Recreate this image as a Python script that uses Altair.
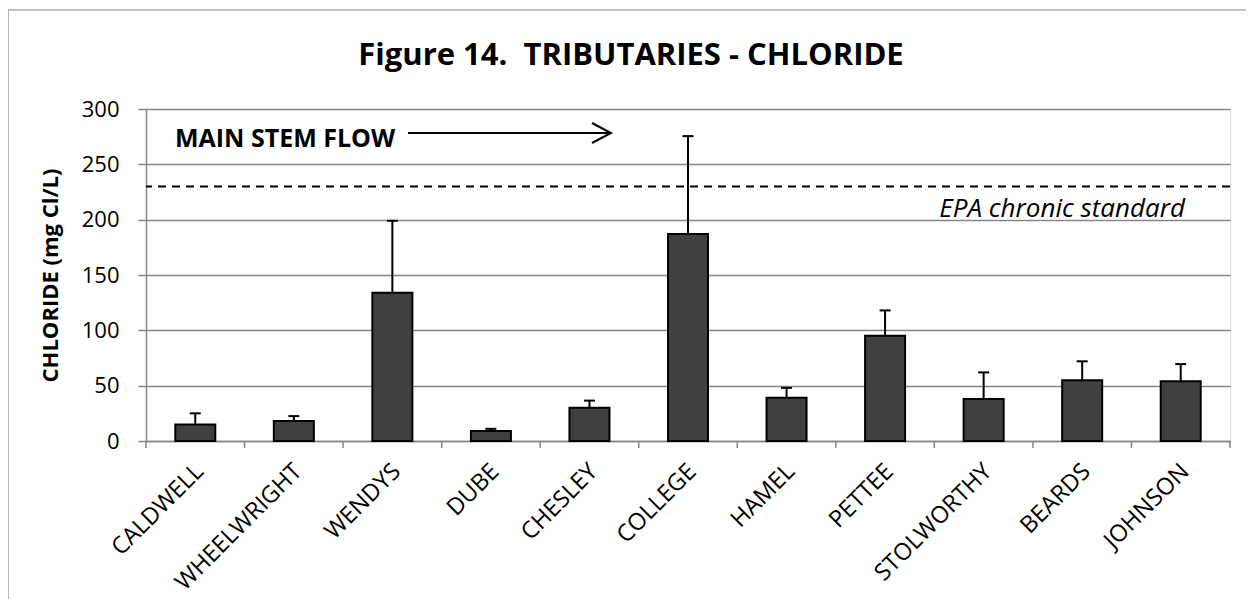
import altair as alt
import pandas as pd

# ---- data ----
sites = ["CALDWELL", "WHEELWRIGHT", "WENDYS", "DUBE", "CHESLEY", "COLLEGE",
         "HAMEL", "PETTEE", "STOLWORTHY", "BEARDS", "JOHNSON"]
chloride_mean = [15, 18, 134, 9, 30, 187, 39, 95, 38, 55, 54]
chloride_err = [10, 4.5, 65, 2, 6.5, 88.5, 9, 23, 24, 17, 15.5]
y_ticks = [0, 50, 100, 150, 200, 250, 300]
epa_standard = 230

title_text = "Figure 14.\u00a0\u00a0TRIBUTARIES - CHLORIDE"
y_title = "CHLORIDE (mg Cl/L)"
flow_label = "MAIN STEM FLOW"
epa_label = "EPA chronic standard"

W, H = 1084, 332
FONT = "Open Sans"
GRAY = "#868686"

df = pd.DataFrame({"site": sites, "mean": chloride_mean, "err": chloride_err})
one = pd.DataFrame({"a": [0]})

x_axis = alt.Axis(title=None, labelAngle=-45, labelAlign="right", labelBaseline="top",
                  labelFont=FONT, labelFontSize=23.5, labelColor="black",
                  labelPadding=18, labelOffset=-4, ticks=False, grid=False,
                  domainColor=GRAY, domainWidth=1.5, labelLimit=0)
x_scale = alt.Scale(paddingInner=0, paddingOuter=0)
x_enc = alt.X("site:N", sort=sites, scale=x_scale, axis=x_axis)

y_axis = alt.Axis(values=y_ticks, title=y_title, titleFont=FONT, titleFontSize=22,
                  titleFontWeight="bold", titleColor="black", titleAngle=-90,
                  titleX=-96, titleY=H / 2, titleAlign="center", titleBaseline="middle",
                  labelFont=FONT, labelFontSize=22, labelColor="black", labelPadding=19,
                  tickSize=8, tickColor=GRAY, tickWidth=1.5, domainColor=GRAY, domainWidth=1.5,
                  grid=True, gridColor=GRAY, gridWidth=1.5)
y_scale = alt.Scale(domain=[0, 300], nice=False)

base = alt.Chart(df).transform_calculate(upper="datum.mean + datum.err")

bars = base.mark_bar(size=40, color="#404040", stroke="black", strokeWidth=2).encode(
    x=x_enc, y=alt.Y("mean:Q", scale=y_scale, axis=y_axis))

err_line = base.mark_rule(color="black", strokeWidth=2).encode(
    x=x_enc, y=alt.Y("mean:Q", scale=y_scale, axis=y_axis), y2="upper:Q")

err_cap = base.mark_tick(color="black", size=11, thickness=2, opacity=1).encode(
    x=x_enc, y=alt.Y("upper:Q", scale=y_scale, axis=y_axis))

x_ticks = base.mark_rule(color=GRAY, strokeWidth=1.5).encode(
    x=alt.X("site:N", sort=sites, scale=x_scale, axis=x_axis, bandPosition=0),
    y=alt.value(H), y2=alt.value(H + 7))

end_tick = alt.Chart(one).mark_rule(color=GRAY, strokeWidth=1.5).encode(
    x=alt.value(W), y=alt.value(H), y2=alt.value(H + 7))

epa_line = alt.Chart(one).mark_rule(color="black", strokeWidth=2, strokeDash=[8, 6]).encode(
    y=alt.datum(epa_standard, scale=y_scale))

epa_text = alt.Chart(one).mark_text(text=epa_label, font=FONT, fontSize=26, fontStyle="italic",
                                    align="right", baseline="alphabetic", color="black").encode(
    x=alt.value(1039), y=alt.value(108))

flow_text = alt.Chart(one).mark_text(text=flow_label, font=FONT, fontSize=25, fontWeight="bold",
                                     align="left", baseline="alphabetic", color="black").encode(
    x=alt.value(29), y=alt.value(38))

arrow_shaft = alt.Chart(one).mark_rule(color="black", strokeWidth=2).encode(
    x=alt.value(262), x2=alt.value(465), y=alt.value(24))

arrow_head = alt.Chart(one).mark_point(shape="M -1.9 -1 L 0 0 L -1.9 1", filled=False, size=400,
                                       stroke="black", strokeWidth=2, opacity=1).encode(
    x=alt.value(465), y=alt.value(24))

title = alt.Chart(one).mark_text(text=title_text, font=FONT, fontSize=31, fontWeight="bold",
                                 align="center", baseline="alphabetic", color="black").encode(
    x=alt.value(485), y=alt.value(-44))

border = alt.Chart(one).mark_rect(fill="transparent", stroke=GRAY, strokeWidth=1.2).encode(
    x=alt.value(-138), x2=alt.value(W + 200), y=alt.value(-99), y2=alt.value(H + 300))

chart = alt.layer(
    border, err_line, err_cap, bars, x_ticks, end_tick, epa_line,
    epa_text, flow_text, arrow_shaft, arrow_head, title
).properties(
    width=W, height=H,
    autosize=alt.AutoSizeParams(type="none"),
    padding={"left": 138, "top": 101, "right": 16, "bottom": 158},
).configure_view(stroke=None).configure(background="white")

chart.save("out.html", embed_options={"renderer": "svg", "actions": False})
